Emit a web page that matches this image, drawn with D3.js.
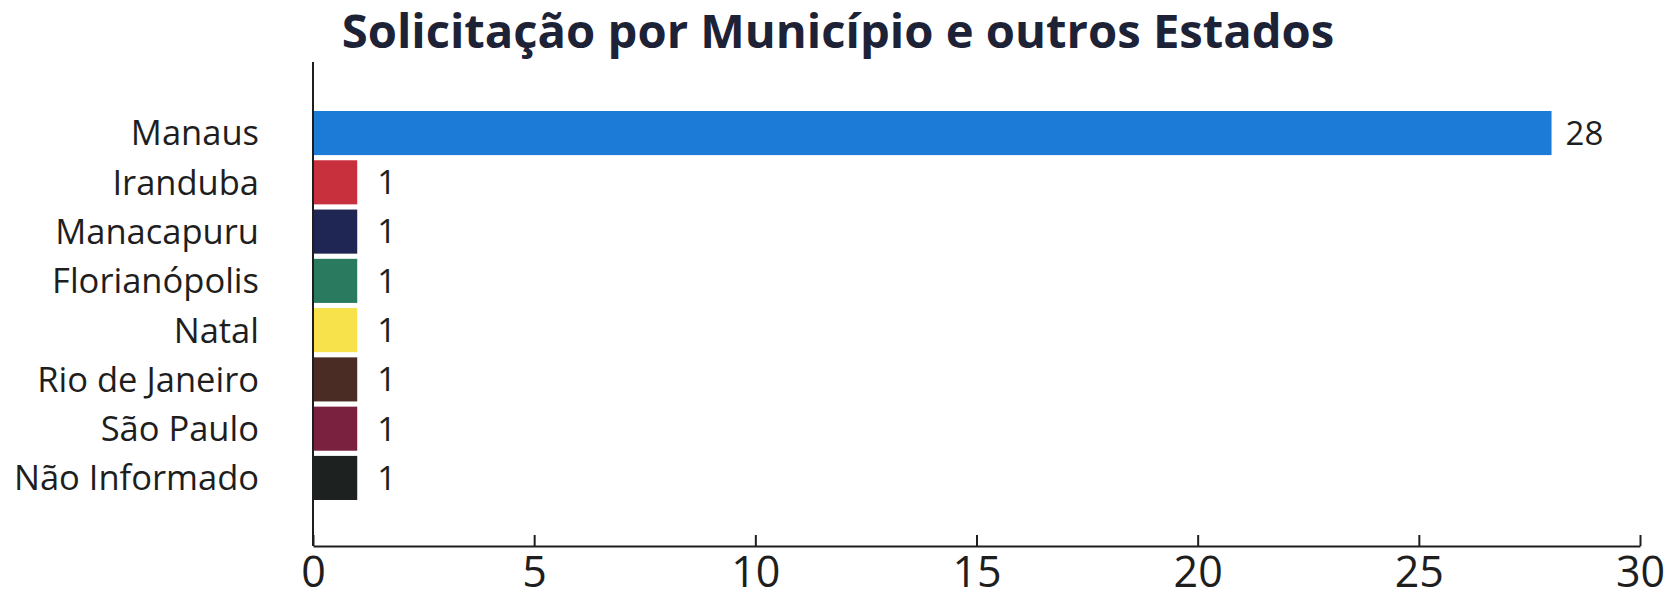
<!DOCTYPE html>
<html>
<head>
<meta charset="utf-8">
<script src="https://cdn.jsdelivr.net/npm/d3@7"></script>
<style>
  body { margin: 0; background: #fff; }
  svg { display: block; }
</style>
</head>
<body>
<div id="chart"></div>
<script>
// municipios e quantidade de solicitacoes
const municipios = ["Manaus", "Iranduba", "Manacapuru", "Florianópolis", "Natal", "Rio de Janeiro", "São Paulo", "Não Informado"]
const solicitacoes = [28, 1, 1, 1, 1, 1, 1, 1]
const cores = ["#1c7bd6", "#c9303e", "#1f2653", "#2a7a5f", "#f7e24c", "#4b2c24", "#7b2140", "#1d2120"]
const xTicks = [0, 5, 10, 15, 20, 25, 30]
const titulo = "Solicitação por Município e outros Estados"

const width = 1668, height = 591

const data = municipios.map((m, i) => ({ nome: m, val: solicitacoes[i], cor: cores[i] }))

let svg = d3.select("#chart").append("svg")
    .attr("width", width)
    .attr("height", height)

let x = d3.scaleLinear()
    .domain([0, 30])
    .range([313, 1640])

let y = d3.scaleBand()
    .domain(municipios)
    .range([111, 500])
    .paddingInner(0.105)

const axisY = 546

// titulo
let t = svg.append("text")
    .attr("x", 838)
    .attr("y", 48)
    .attr("text-anchor", "middle")
    .attr("font-family", "Open Sans")
    .attr("font-weight", 700)
    .attr("font-size", 45)
    .attr("fill", "#1d2236")
    .text(titulo)
// ajusta largura do titulo
let tw = t.node().getComputedTextLength()
t.attr("font-size", 45 * 993 / tw)

// barras
svg.selectAll(".bar")
    .data(data)
    .enter()
    .append("rect")
    .attr("class", "bar")
    .attr("x", x(0))
    .attr("y", d => y(d.nome))
    .attr("width", d => x(d.val) - x(0))
    .attr("height", y.bandwidth())
    .attr("fill", d => d.cor)

// valores
svg.selectAll(".val")
    .data(data)
    .enter()
    .append("text")
    .attr("class", "val")
    .attr("x", d => x(d.val) + (d.val < 10 ? 20 : 14))
    .attr("y", d => y(d.nome) + y.bandwidth() / 2)
    .attr("dy", "0.36em")
    .attr("font-family", "Open Sans")
    .attr("font-size", 33)
    .attr("fill", "#1e1e1e")
    .text(d => d.val)

// rotulos das categorias
svg.selectAll(".cat")
    .data(data)
    .enter()
    .append("text")
    .attr("class", "cat")
    .attr("x", 259)
    .attr("y", d => y(d.nome) + y.bandwidth() / 2)
    .attr("dy", "0.36em")
    .attr("text-anchor", "end")
    .attr("font-family", "Open Sans")
    .attr("font-size", 34.5)
    .attr("fill", "#1e1e1e")
    .text(d => d.nome)

// eixo y (so a linha)
svg.append("line")
    .attr("x1", x(0)).attr("x2", x(0))
    .attr("y1", 62).attr("y2", axisY)
    .attr("stroke", "#1e1e1e")
    .attr("stroke-width", 2)

// eixo x
let gx = svg.append("g")
    .attr("transform", "translate(0," + axisY + ")")
    .call(d3.axisBottom(x).tickValues(xTicks).tickSize(-11).tickSizeOuter(0).tickPadding(0))

gx.select(".domain").attr("stroke", "#1e1e1e").attr("stroke-width", 2)
gx.selectAll(".tick line").attr("stroke", "#1e1e1e").attr("stroke-width", 2)
gx.selectAll(".tick text")
    .attr("y", 41)
    .attr("dy", 0)
    .attr("font-family", "Open Sans")
    .attr("font-size", 43)
    .attr("fill", "#1e1e1e")
</script>
</body>
</html>
